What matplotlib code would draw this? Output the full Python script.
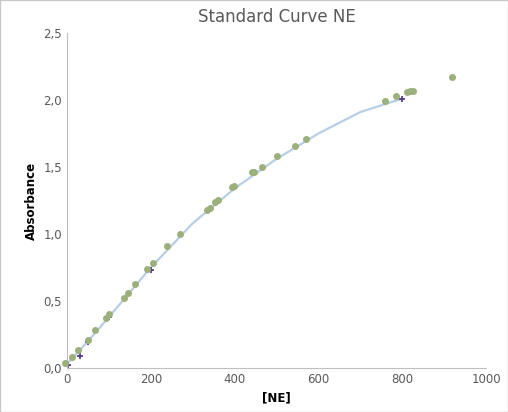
import matplotlib
matplotlib.use('Agg')
import matplotlib.pyplot as plt

sample_x = [-5, 12, 26, 50, 67, 93, 100, 136, 146, 162, 191, 205, 239, 270, 334, 341,
            353, 360, 394, 399, 441, 446, 465, 501, 544, 570, 759, 785, 812, 819, 826, 919]
sample_y = [0.04, 0.08, 0.13, 0.21, 0.28, 0.37, 0.40, 0.52, 0.56, 0.63, 0.74, 0.78, 0.91, 1.0,
            1.18, 1.19, 1.24, 1.25, 1.35, 1.36, 1.46, 1.46, 1.50, 1.58, 1.66, 1.71, 1.99,
            2.03, 2.06, 2.07, 2.07, 2.17]
std_x = [2, 30, 50, 100, 200, 800]
std_y = [0.02, 0.09, 0.19, 0.38, 0.73, 2.01]
curve_x = [0, 50, 100, 200, 300, 400, 500, 600, 700, 800]
curve_y = [0.03, 0.20, 0.38, 0.75, 1.08, 1.34, 1.56, 1.75, 1.91, 2.01]

fig = plt.figure(figsize=(5.08, 4.12), dpi=100)
fig.patches.append(plt.Rectangle((0, 0), 1, 1, transform=fig.transFigure, fill=False,
                                 edgecolor='#c8c8c8', linewidth=1))
ax = fig.add_axes([0.132, 0.107, 0.825, 0.813])

ax.plot(curve_x, curve_y, color='#b4cfe6', linewidth=1.6, zorder=1)
ax.scatter(std_x, std_y, marker='+', color='#5a3d8a', s=25, linewidths=1.3, zorder=2, clip_on=False)
ax.scatter(sample_x, sample_y, color='#9bb07a', s=16, zorder=3, clip_on=False)

ax.set_xlim(0, 1000)
ax.set_ylim(0, 2.5)
ax.set_xticks(range(0, 1001, 200))
ax.set_yticks([0, 0.5, 1.0, 1.5, 2.0, 2.5])
ax.set_yticklabels(['0,0', '0,5', '1,0', '1,5', '2,0', '2,5'])
ax.tick_params(length=0, labelsize=8.5, colors='#595959')
for s in ['top', 'right']:
    ax.spines[s].set_visible(False)
for s in ['left', 'bottom']:
    ax.spines[s].set_color('#bfbfbf')

ax.set_xlabel('[NE]', fontweight='bold', fontsize=8.5)
ax.set_ylabel('Absorbance', fontweight='bold', fontsize=8.5)
ax.set_title('Standard Curve NE', fontsize=12, color='#595959', pad=8)

fig.savefig('out.png', dpi=100)
